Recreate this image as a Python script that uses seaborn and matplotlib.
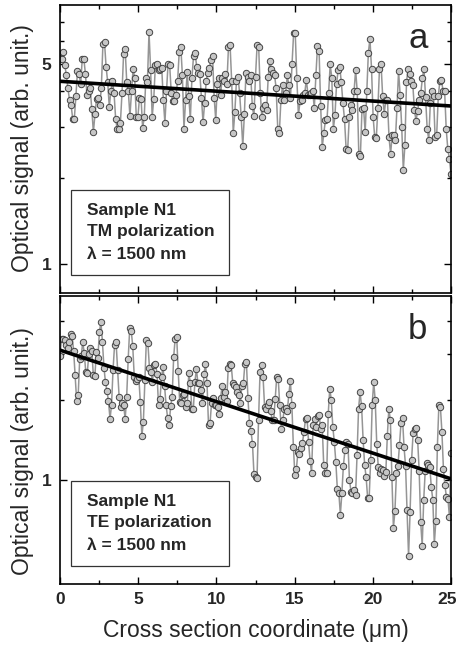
import numpy as np
import pandas as pd
import matplotlib
matplotlib.use("Agg")
import matplotlib.pyplot as plt
import matplotlib.transforms as mtransforms
import seaborn as sns
from matplotlib.ticker import FixedLocator, FixedFormatter, NullFormatter, MultipleLocator
from matplotlib.patches import Rectangle

# ---------------- data ----------------
x_range = [0, 25]

# panel a : TM polarization
signal_tm = [
    5.25, 5.2, 5.5, 4.94, 4.56, 4.1, 3.73, 3.58, 3.21, 3.21, 3.85, 4.72, 4.6, 4.24, 5.2, 5.2,
    4.6, 3.88, 4.0, 4.1, 3.47, 2.89, 3.33, 3.77, 3.8, 3.58, 4.1, 5.84, 5.94, 4.87, 4.32, 3.54,
    4.0, 4.35, 3.95, 3.22, 2.95, 2.95, 3.11, 3.95, 5.4, 5.62, 4.3, 4.0, 3.28, 4.0, 4.8, 4.45,
    3.26, 3.25, 3.8, 3.78, 2.98, 3.26, 4.45, 4.3, 6.45, 4.77, 3.26, 3.78, 4.94, 4.97, 4.77, 4.8,
    4.83, 3.75, 3.11, 4.0, 5.0, 4.94, 3.95, 3.7, 3.7, 3.9, 4.35, 5.48, 5.72, 4.56, 2.96, 3.75,
    4.68, 3.85, 3.2, 4.45, 5.3, 5.45, 4.87, 4.65, 4.6, 3.8, 3.12, 3.65, 4.35, 4.65, 4.83, 5.15,
    5.3, 3.8, 3.18, 4.25, 4.45, 3.88, 4.45, 4.35, 4.6, 4.25, 5.72, 5.8, 4.35, 2.86, 3.38, 4.35,
    4.5, 3.95, 3.25, 2.58, 3.33, 4.65, 4.5, 4.35, 4.55, 3.55,
    3.28, 4.5, 5.8, 5.72, 3.95, 3.25, 3.5, 3.6, 3.45, 4.5, 5.1, 4.8, 4.65, 4.55, 4.1, 2.97,
    2.87, 3.75, 4.2, 3.75, 3.95, 4.55, 4.2, 3.8, 5.0, 6.4, 6.4, 4.45, 3.3, 3.7, 3.75, 3.9,
    3.95, 4.4, 3.9, 3.9, 3.95, 4.0, 3.5, 4.55, 5.75, 5.55, 3.55, 2.56, 2.87, 3.18, 3.2, 3.95,
    4.97, 4.45, 2.97, 3.3, 4.25, 4.75, 4.87, 4.3, 3.65, 3.2, 2.53, 2.51, 3.26, 3.6, 3.45, 4.0,
    4.75, 4.0, 2.42, 2.39, 3.48, 3.5, 2.88, 4.0, 5.45, 6.1, 4.8, 3.26, 2.78, 2.75, 3.5, 4.8,
    4.97, 3.85, 3.35, 3.75, 3.75, 2.77, 2.43, 2.82, 2.83, 2.7, 3.5, 4.7, 3.9, 3.0, 2.13, 2.6,
    4.3, 4.8, 4.6, 4.35, 4.2, 3.45, 3.16, 3.43, 3.75, 3.95, 4.45, 4.8, 3.82, 2.97, 2.72, 3.65,
    4.0, 3.85, 2.77, 2.83, 3.85, 4.35, 4.4, 4.0, 4.0, 2.95, 2.52, 2.33, 2.06,
]
fit_tm = [4.34, 3.56]

# panel b : TE polarization
signal_te = [
    2.95, 3.44, 3.42, 3.41, 3.25, 3.18, 3.34, 3.58, 3.51, 3.09, 2.49, 1.99, 2.09, 2.88, 2.95, 3.34,
    3.03, 2.57, 2.54, 3.0, 3.18, 3.09, 2.49, 2.47, 3.06, 2.91, 3.65, 3.98, 3.34, 2.67, 2.35, 2.17,
    1.99, 1.70, 1.92, 2.62, 3.25, 3.34, 2.61, 2.07, 1.89, 1.95, 1.92, 1.70, 2.07, 2.88, 3.76, 3.68,
    3.22, 2.46, 2.37, 2.42, 2.46, 1.97, 1.47, 1.65, 2.39, 3.41, 3.31, 2.67, 2.57, 2.35, 2.72, 2.76,
    2.53, 1.92, 2.03, 2.46, 2.68, 2.28, 1.92, 1.72, 1.61, 1.90, 2.07, 2.93, 3.44, 3.49, 2.59, 1.97,
    1.96, 2.09, 2.12, 1.89, 1.95, 2.54, 2.33, 1.85, 1.86, 2.35, 2.64, 2.33, 2.33, 2.20, 1.95, 2.53,
    2.75, 2.33, 1.61, 1.64, 1.96, 2.05, 1.92, 1.92, 1.89, 1.77, 2.05, 2.28, 2.07, 2.15, 1.99, 2.67,
    2.75, 2.72, 2.33, 2.30, 2.26, 2.15, 2.09, 1.96, 2.28, 2.33, 2.76, 2.80, 2.05, 1.64, 1.53, 1.37,
    1.045, 1.02,
    1.01, 1.68, 2.57, 2.72, 2.45, 1.89, 1.86, 1.92, 1.97, 1.83, 1.68, 1.68, 2.03, 2.45, 2.42, 1.92,
    1.56, 1.68, 1.85, 1.88, 1.83, 2.11, 2.38, 1.92, 1.33, 1.04, 1.10, 1.27, 1.25, 1.32, 1.38, 1.52,
    1.70, 1.72, 1.39, 1.18, 1.06, 1.61, 1.70, 1.58, 1.74, 1.76, 1.56, 1.61, 1.14, 1.055, 1.055, 1.78,
    2.22, 2.01, 1.59, 1.39, 1.17, 0.92, 0.89, 0.735, 0.89, 1.13, 1.29, 1.39, 1.36, 1.0, 0.90, 0.89,
    0.91, 0.87, 1.235, 1.86, 2.15, 1.90, 1.42, 1.14, 1.02, 0.85, 0.85, 1.19, 1.93, 2.35, 2.0, 1.37,
    1.12, 1.06, 1.10, 1.09, 1.03, 1.07, 1.47, 1.86, 1.68, 1.02, 0.654, 0.757, 1.055, 1.13, 1.35, 1.64,
    1.72, 1.33, 1.13, 0.766, 0.513, 0.75, 1.19, 1.50, 1.56, 1.57, 1.41, 1.08, 0.687, 0.56, 0.837, 1.08,
    1.16, 1.14, 1.12, 0.935, 0.837, 0.568, 0.697, 1.33, 1.92, 1.89, 1.52, 1.10, 0.949, 0.856, 0.844, 0.718,
    1.26,
]
fit_te = [3.11, 1.006]

xticks_major = [0, 5, 10, 15, 20, 25]
xtick_labels = ["0", "5", "10", "15", "20", "25"]

panels = [
    dict(signal=signal_tm, fit=fit_tm, ylim=(0.795, 8.0), yt=[1, 5], ytl=["1", "5"],
         yminor=[2, 3, 4, 6, 7], letter="a",
         box=["Sample N1", "TM polarization", "\u03bb = 1500 nm"]),
    dict(signal=signal_te, fit=fit_te, ylim=(0.40, 5.0), yt=[1], ytl=["1"],
         yminor=[2, 3, 4], letter="b",
         box=["Sample N1", "TE polarization", "\u03bb = 1500 nm"]),
]

# ---------------- drawing ----------------
sns.set_style("ticks")
plt.rcParams["font.family"] = ["Liberation Sans", "DejaVu Sans"]

W, H = 458, 649
fig = plt.figure(figsize=(W / 100, H / 100), dpi=100)
ax_a = fig.add_axes([60 / W, 1 - 293 / H, 391 / W, 288 / H])
ax_b = fig.add_axes([60 / W, 1 - 584 / H, 391 / W, 288 / H])

for ax, p, is_bottom in [(ax_a, panels[0], False), (ax_b, panels[1], True)]:
    xs = np.linspace(x_range[0], x_range[1], len(p["signal"]))
    df = pd.DataFrame({"x": xs, "y": p["signal"]})
    sns.lineplot(data=df, x="x", y="y", ax=ax, color="#959595", lw=1.1,
                 marker="o", markersize=4.6, markerfacecolor="#c6c6c6",
                 markeredgecolor="#444444", markeredgewidth=0.7,
                 errorbar=None, estimator=None, sort=False, zorder=2)
    sns.lineplot(x=x_range, y=p["fit"], ax=ax, color="black", lw=2.6,
                 errorbar=None, estimator=None, zorder=3)
    ax.set_yscale("log")
    ax.set_xlim(*x_range)
    ax.set_ylim(*p["ylim"])

    ax.xaxis.set_major_locator(FixedLocator(xticks_major))
    ax.xaxis.set_minor_locator(MultipleLocator(2.5))
    ax.yaxis.set_major_locator(FixedLocator(p["yt"]))
    ax.yaxis.set_major_formatter(FixedFormatter(p["ytl"]))
    ax.yaxis.set_minor_locator(FixedLocator(p["yminor"]))
    ax.yaxis.set_minor_formatter(NullFormatter())
    ax.tick_params(which="both", direction="in", top=True, right=True, width=1.0,
                   color="black")
    ax.tick_params(which="major", length=5, labelsize=12.5, pad=6)
    ax.tick_params(which="minor", length=3)
    for lab in ax.get_yticklabels():
        lab.set_fontweight("bold")
    if is_bottom:
        ax.set_xticklabels(xtick_labels, fontweight="bold")
        # nudge the last label slightly left so it stays inside the canvas
        last = ax.get_xticklabels()[-1]
        last.set_transform(last.get_transform() +
                           mtransforms.ScaledTranslation(-4 / 100, 0, fig.dpi_scale_trans))
        ax.set_xlabel("Cross section coordinate (\u03bcm)", fontsize=16.5)
        ax.xaxis.set_label_coords(0.5, -0.16)
        ax.xaxis.label.set_verticalalignment("center")
    else:
        ax.tick_params(axis="x", which="both", labelbottom=False)
        ax.set_xlabel("")

    ax.set_ylabel("Optical signal (arb. unit.)", fontsize=16.5)
    ax.yaxis.set_label_coords(-0.096, 0.503 if not is_bottom else 0.462)
    ax.yaxis.label.set_verticalalignment("center")

    for sp in ax.spines.values():
        sp.set_linewidth(1.2)
        sp.set_color("black")

    ax.add_patch(Rectangle((0.027, 0.063), 0.405, 0.295, transform=ax.transAxes,
                           fill=False, edgecolor="#333333", lw=0.9, zorder=4))
    for txt, yy in zip(p["box"], [0.286, 0.212, 0.132]):
        ax.text(0.070, yy, txt, transform=ax.transAxes, fontsize=12.5,
                fontweight="bold", ha="left", va="center", zorder=5)
    ax.text(0.915, 0.85, p["letter"], transform=ax.transAxes, fontsize=25,
            ha="center", va="baseline", zorder=5)

fig.savefig("out.png", dpi=100)
